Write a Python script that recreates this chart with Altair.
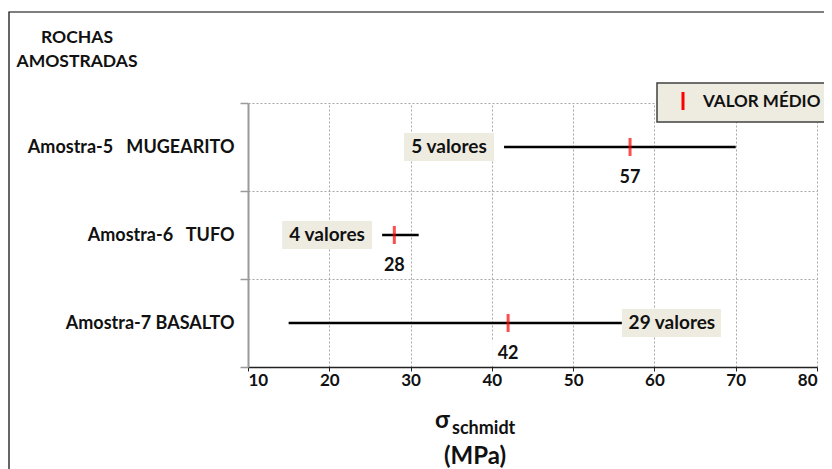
import altair as alt
import pandas as pd

# ---- data ----
samples = ["Amostra-5\u00a0\u00a0\u00a0MUGEARITO", "Amostra-6\u00a0\u00a0\u00a0TUFO", "Amostra-7 BASALTO"]
min_vals = [41.5, 26.5, 15.0]
max_vals = [70.0, 31.0, 56.0]
mean_vals = [57, 28, 42]
n_vals = [5, 4, 29]
x_ticks = [10, 20, 30, 40, 50, 60, 70, 80]

df = pd.DataFrame({
    "sample": samples,
    "vmin": min_vals,
    "vmax": max_vals,
    "mean": mean_vals,
    "n": n_vals,
})
df["nlabel"] = df["n"].astype(str) + " valores"

FONT = "Lato"
W, H = 569, 264
GRID = "#a6a6a6"
BOX = "#eeece1"
INK = "#111111"

xscale = alt.Scale(domain=[10, 80], nice=False, zero=False)
xaxis = alt.Axis(values=x_ticks, grid=True, gridColor=GRID, gridDash=[2, 2], gridWidth=1,
                 domainColor="#222222", domainWidth=1.5, tickColor="#222222", tickSize=4,
                 labelFont=FONT, labelFontWeight="bold", labelFontSize=17, labelColor=INK,
                 labelPadding=1, title=None)
yaxis = alt.Axis(title=None, tickBand="extent", grid=True, gridColor=GRID, gridDash=[2, 2],
                 domainColor="#9a9a9a", domainWidth=2, tickColor="#9a9a9a", tickSize=8, tickWidth=1.5,
                 labelFont=FONT, labelFontWeight="bold", labelFontSize=18, labelColor=INK,
                 labelPadding=6, labelLimit=400)
Y = alt.Y("sample:N", sort=samples, scale=alt.Scale(paddingInner=0, paddingOuter=0), axis=yaxis)

base = alt.Chart(df)

ranges = base.mark_rule(color="black", strokeWidth=2.5).encode(
    x=alt.X("vmin:Q", scale=xscale, axis=xaxis), x2="vmax:Q", y=Y)

means = base.mark_tick(color="#ff0000", thickness=3, size=18).encode(
    x=alt.X("mean:Q", scale=xscale), y=Y)

mean_bg = base.mark_bar(color="white", height=26, yOffset=30, xOffset=-16, x2Offset=16).encode(
    x=alt.X("mean:Q", scale=xscale), x2="mean:Q", y=Y)
mean_txt = base.mark_text(font=FONT, fontWeight="bold", fontSize=18, color=INK,
                          dy=31, baseline="middle").encode(
    x=alt.X("mean:Q", scale=xscale), y=Y, text="mean:Q")

left = base.transform_filter(alt.datum.n < 10)
left_box = left.mark_bar(color=BOX, height=28, xOffset=-100, x2Offset=-10).encode(
    x=alt.X("vmin:Q", scale=xscale), x2="vmin:Q", y=Y)
left_txt = left.mark_text(font=FONT, fontWeight="bold", fontSize=19, color=INK,
                          dx=-55, baseline="middle").encode(
    x=alt.X("vmin:Q", scale=xscale), y=Y, text="nlabel:N")

right = base.transform_filter(alt.datum.n >= 10)
right_box = right.mark_bar(color=BOX, height=28, xOffset=0, x2Offset=99).encode(
    x=alt.X("vmax:Q", scale=xscale), x2="vmax:Q", y=Y)
right_txt = right.mark_text(font=FONT, fontWeight="bold", fontSize=19, color=INK,
                            dx=50, baseline="middle").encode(
    x=alt.X("vmax:Q", scale=xscale), y=Y, text="nlabel:N")

one = alt.Chart(alt.Data(values=[{}]))

legend_box = one.mark_rect(fill=BOX, stroke="#404040", strokeWidth=1.5).encode(
    x=alt.value(409), x2=alt.value(620), y=alt.value(-20), y2=alt.value(19))
legend_tick = one.mark_rule(color="#ff0000", strokeWidth=3).encode(
    x=alt.value(435), y=alt.value(-11), y2=alt.value(7))
legend_txt = one.mark_text(text="VALOR MÉDIO", font=FONT, fontWeight="bold", fontSize=17,
                           color=INK, align="left", baseline="alphabetic").encode(
    x=alt.value(455), y=alt.value(4))

frame = one.mark_rect(filled=False, stroke="black", strokeWidth=1.2).encode(
    x=alt.value(-239), x2=alt.value(620), y=alt.value(-91), y2=alt.value(420))

title = one.mark_text(text=["ROCHAS", "AMOSTRADAS"], font=FONT, fontWeight="bold", fontSize=17.5,
                      color=INK, align="center", baseline="alphabetic", lineHeight=24).encode(
    x=alt.value(-171), y=alt.value(-60))

sigma = one.mark_text(text="σ", font=FONT, fontWeight="bold", fontSize=24, color=INK,
                      align="left", baseline="alphabetic").encode(x=alt.value(187), y=alt.value(325))
sub = one.mark_text(text="schmidt", font=FONT, fontWeight="bold", fontSize=18, color=INK,
                    align="left", baseline="alphabetic").encode(
    x=alt.value(204), y=alt.value(331))
mpa = one.mark_text(text="(MPa)", font=FONT, fontWeight="bold", fontSize=24, color=INK,
                    align="center", baseline="alphabetic").encode(
    x=alt.value(227), y=alt.value(361))

chart = alt.layer(
    ranges, means, left_box, left_txt, right_box, right_txt, mean_bg, mean_txt,
    legend_box, legend_tick, legend_txt, frame, title, sigma, sub, mpa
).properties(
    width=W, height=H,
    autosize=alt.AutoSizeParams(type="none"),
    padding={"left": 240, "top": 95, "right": 7, "bottom": 102},
    background="white",
).configure_view(strokeWidth=0)

chart.save("out.html", embed_options={"renderer": "svg", "actions": False})
